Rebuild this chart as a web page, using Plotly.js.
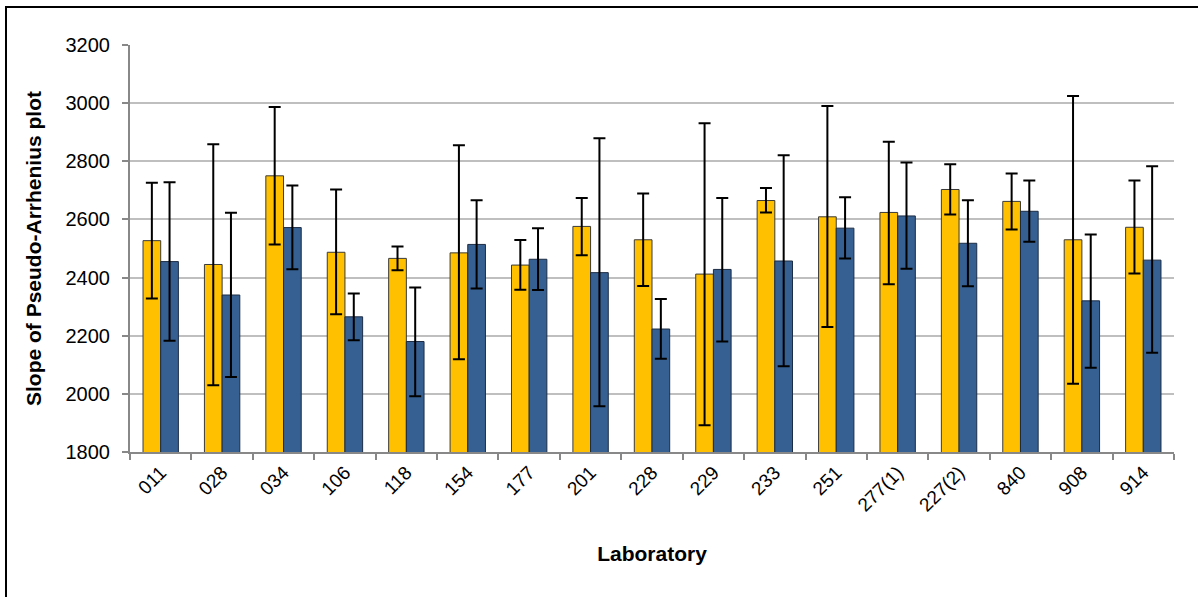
<!DOCTYPE html>
<html>
<head>
<meta charset="utf-8">
<script src="https://cdn.plot.ly/plotly-3.0.1.min.js"></script>
<style>
  html, body { margin: 0; padding: 0; overflow: hidden; background: #fff; }
  #chart { position: absolute; left: 0; top: 0; width: 1198px; height: 597px; }
  #frame { position: absolute; left: 5px; top: 6px; width: 2000px; height: 2000px;
           border-left: 2px solid #000; border-top: 2px solid #000; pointer-events: none; }
</style>
</head>
<body>
<div id="chart"></div>
<div id="frame"></div>
<script>
const laboratories = ["011","028","034","106","118","154","177","201","228","229","233","251","277(1)","227(2)","840","908","914"];

const yellowValues = [2527, 2445, 2750, 2487, 2466, 2485, 2443, 2576, 2530, 2412, 2665, 2609, 2624, 2703, 2662, 2530, 2573];
const yellowUpper  = [2726, 2859, 2987, 2703, 2507, 2855, 2529, 2674, 2689, 2931, 2708, 2990, 2867, 2790, 2758, 3025, 2734];
const yellowLower  = [2328, 2030, 2514, 2274, 2425, 2119, 2358, 2477, 2371, 1892, 2624, 2230, 2377, 2617, 2565, 2035, 2414];

const blueValues = [2455, 2340, 2572, 2265, 2180, 2514, 2463, 2417, 2223, 2428, 2457, 2570, 2612, 2518, 2628, 2320, 2460];
const blueUpper  = [2728, 2623, 2717, 2345, 2366, 2666, 2570, 2879, 2326, 2674, 2821, 2676, 2796, 2666, 2734, 2548, 2783];
const blueLower  = [2183, 2058, 2429, 2184, 1992, 2362, 2357, 1957, 2121, 2180, 2095, 2466, 2430, 2370, 2523, 2090, 2141];

const yTicks = [1800, 2000, 2200, 2400, 2600, 2800, 3000, 3200];

function errArrays(vals, up, lo) {
  return {
    plus: vals.map((v, i) => up[i] - v),
    minus: vals.map((v, i) => v - lo[i])
  };
}
const ye = errArrays(yellowValues, yellowUpper, yellowLower);
const be = errArrays(blueValues, blueUpper, blueLower);

const traces = [
  {
    type: "bar", x: laboratories, y: yellowValues,
    marker: { color: "#FFC000", line: { color: "#3a3a3a", width: 1 } },
    error_y: { type: "data", symmetric: false, array: ye.plus, arrayminus: ye.minus,
               color: "#000", thickness: 2, width: 6 },
    hoverinfo: "x+y"
  },
  {
    type: "bar", x: laboratories, y: blueValues,
    marker: { color: "#376092", line: { color: "#1c2c44", width: 1 } },
    error_y: { type: "data", symmetric: false, array: be.plus, arrayminus: be.minus,
               color: "#000", thickness: 2, width: 6 },
    hoverinfo: "x+y"
  }
];

const layout = {
  width: 1198, height: 597,
  margin: { l: 130, r: 24, t: 45, b: 145 },
  paper_bgcolor: "#fff", plot_bgcolor: "#fff",
  showlegend: false,
  barmode: "group",
  bargap: 0.424, bargroupgap: 0,
  font: { family: "Liberation Sans, Arial, sans-serif", color: "#000" },
  xaxis: {
    type: "category",
    tickangle: -45,
    tickson: "boundaries",
    ticks: "outside", ticklen: 6, tickwidth: 2, tickcolor: "#888",
    showline: true, linecolor: "#888", linewidth: 2,
    showgrid: false,
    tickfont: { size: 19, family: "Liberation Sans, Arial, sans-serif", color: "#000" },
    title: { text: "<b>Laboratory</b>", font: { size: 21, family: "Liberation Sans, Arial, sans-serif", color: "#000" }, standoff: 32 },
    automargin: false
  },
  yaxis: {
    range: [1800, 3200],
    tickvals: yTicks, ticktext: yTicks.map(String),
    ticks: "outside", ticklen: 6, tickwidth: 2, tickcolor: "#888",
    showline: true, linecolor: "#888", linewidth: 2,
    showgrid: true, gridcolor: "#bfbfbf", gridwidth: 2,
    zeroline: false,
    ticklabelstandoff: 8,
    tickfont: { size: 20, family: "Liberation Sans, Arial, sans-serif", color: "#000" },
    title: { text: "<b>Slope of Pseudo-Arrhenius plot</b>", font: { size: 21, family: "Liberation Sans, Arial, sans-serif", color: "#000" }, standoff: 18 },
    automargin: false
  }
};

Plotly.newPlot("chart", traces, layout, { displayModeBar: false, staticPlot: true });
</script>
</body>
</html>
